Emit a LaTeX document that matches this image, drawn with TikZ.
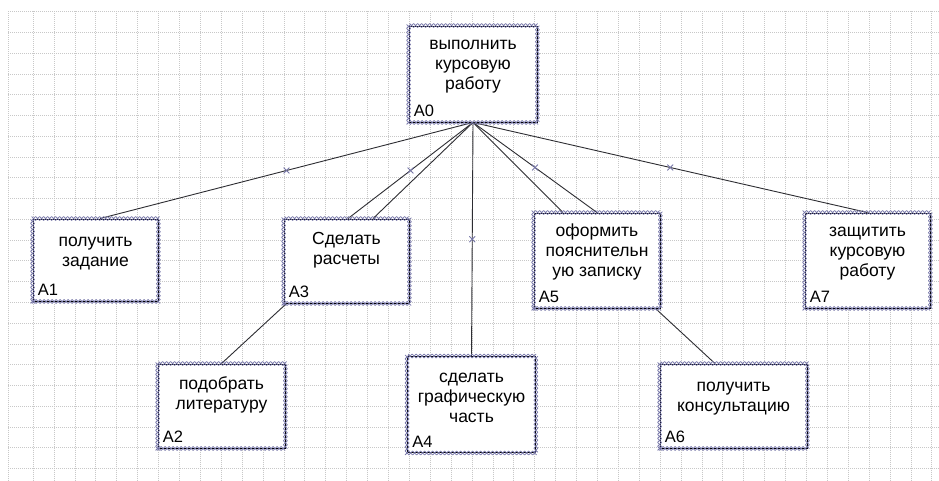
\documentclass[tikz,border=0pt]{standalone}
\usepackage{fontspec}
\setmainfont{Liberation Sans}
\usetikzlibrary{decorations.markings,shapes.misc}

\definecolor{gridgray}{RGB}{200,200,200}
\definecolor{edgemark}{RGB}{118,118,168}
\definecolor{wire}{RGB}{45,45,50}

% strut that fixes the height of the first text line
\newcommand{\firstline}{\rule{0pt}{14pt}}

\tikzset{
  gridline/.style={gridgray, line width=0.6pt, dash pattern=on 1pt off 1pt},
  taskbox/.style={draw=black, line width=0.9pt, fill=white, inner sep=0pt},
  crossedge/.style={postaction={decorate, decoration={markings,
      mark=between positions 0 and 1 step 4pt with
      {\draw[edgemark, line width=0.75pt] (-2pt,-2pt)--(2pt,2pt) (-2pt,2pt)--(2pt,-2pt);}}}},
  tasktext/.style={font=\fontsize{17.5pt}{20pt}\selectfont, align=center, inner sep=0pt, anchor=north},
  tasklabel/.style={font=\fontsize{16.5pt}{18pt}\selectfont, inner sep=0pt, anchor=base west},
  link/.style={wire, line width=0.9pt},
  xmark/.style={cross out, draw=edgemark, line width=0.8pt, minimum size=5pt, inner sep=0pt}
}

\begin{document}
\begin{tikzpicture}[x=1pt, y=-1pt]
  \fill[white] (0,0) rectangle (939,481);
  \useasboundingbox (0,0) rectangle (939,481);

  % background grid
  \draw[gridline] (8,11.5) -- (8,481);
  \foreach \i in {0,...,43}
    \draw[gridline] ({33+20.9*\i},11.5) -- ({33+20.9*\i},481);
  \foreach \j in {0,...,22}
    \draw[gridline] (8,{11.5+20.77*\j}) -- (939,{11.5+20.77*\j});

  % activity boxes
  \node[taskbox, minimum width=128pt, minimum height=96pt] (a0) at (473,74) {};
  \node[taskbox, minimum width=125pt, minimum height=82pt] (a1) at (95.5,260) {};
  \node[taskbox, minimum width=127pt, minimum height=84pt] (a2) at (221.5,406) {};
  \node[taskbox, minimum width=125pt, minimum height=84pt] (a3) at (346.5,261) {};
  \node[taskbox, minimum width=128pt, minimum height=96pt] (a4) at (471.5,404.5) {};
  \node[taskbox, minimum width=126pt, minimum height=95pt] (a5) at (597,260.5) {};
  \node[taskbox, minimum width=147pt, minimum height=84pt] (a6) at (733.5,406) {};
  \node[taskbox, minimum width=125pt, minimum height=95pt] (a7) at (867.5,260.5) {};

  % connectors from the root activity
  \draw[link] (a0.south) -- node[xmark, pos=0.5] {} ([xshift=4.5pt]a1.north);
  \draw[link] (a0.south) -- node[xmark, pos=0.5] {} ([xshift=1.5pt]a3.north);
  \draw[link] (a0.south) -- ([xshift=26.5pt]a3.north);
  \draw[link] (a0.south) -- node[xmark, pos=0.5] {} (a4.north);
  \draw[link] (a0.south) -- ([xshift=-34pt]a5.north);
  \draw[link] (a0.south) -- node[xmark, pos=0.5] {} (a5.north);
  \draw[link] (a0.south) -- node[xmark, pos=0.5] {} (a7.north);
  % second-level connectors
  \draw[link] ([xshift=3pt]a3.south west) -- (a2.north);
  \draw[link] ([xshift=-5pt]a5.south east) -- ([xshift=-18.5pt]a6.north);

  % box edges with handle marks
  \foreach \b in {a0,a1,a2,a3,a4,a5,a6,a7}
    \path[crossedge] (\b.south west) rectangle (\b.north east);

  % texts
  \node[tasktext] (a0t) at ([yshift=-10pt]a0.north) {\firstline выполнить\\курсовую\\работу};
  \node[tasktext] (a1t) at ([yshift=-14pt]a1.north) {\firstline получить\\задание};
  \node[tasktext] (a2t) at ([yshift=-12pt]a2.north) {\firstline подобрать\\литературу};
  \node[tasktext] (a3t) at ([yshift=-12pt]a3.north) {\firstline Сделать\\расчеты};
  \node[tasktext] (a4t) at ([yshift=-12pt]a4.north) {\firstline сделать\\графическую\\часть};
  \node[tasktext] (a5t) at ([yshift=-10pt]a5.north) {\firstline оформить\\пояснительн\\ую записку};
  \node[tasktext] (a6t) at ([yshift=-14pt]a6.north) {\firstline получить\\консультацию};
  \node[tasktext] (a7t) at ([yshift=-10pt]a7.north) {\firstline защитить\\курсовую\\работу};

  % activity numbers
  \node[tasklabel] (a0l) at ([xshift=5pt,yshift=5.5pt]a0.south west) {A0};
  \node[tasklabel] (a1l) at ([xshift=5pt,yshift=5.5pt]a1.south west) {A1};
  \node[tasklabel] (a2l) at ([xshift=5pt,yshift=5.5pt]a2.south west) {A2};
  \node[tasklabel] (a3l) at ([xshift=5pt,yshift=5.5pt]a3.south west) {A3};
  \node[tasklabel] (a4l) at ([xshift=5pt,yshift=5.5pt]a4.south west) {A4};
  \node[tasklabel] (a5l) at ([xshift=5pt,yshift=5.5pt]a5.south west) {A5};
  \node[tasklabel] (a6l) at ([xshift=5pt,yshift=5.5pt]a6.south west) {A6};
  \node[tasklabel] (a7l) at ([xshift=5pt,yshift=5.5pt]a7.south west) {A7};
\end{tikzpicture}
\end{document}
